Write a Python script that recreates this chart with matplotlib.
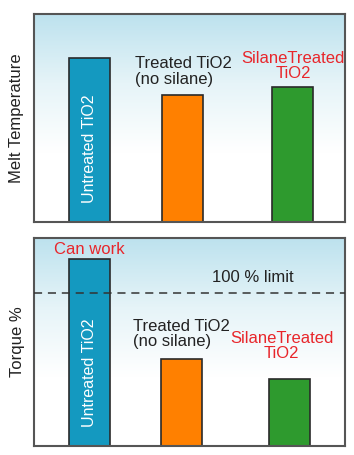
import matplotlib.pyplot as plt
import numpy as np
from matplotlib.colors import LinearSegmentedColormap

plt.rcParams['font.family'] = ['Liberation Sans', 'DejaVu Sans']

# data (arbitrary units, axis 0-100)
positions_top = [0.178, 0.477, 0.831]
positions_bot = [0.178, 0.474, 0.822]
melt_temp = [79, 61, 65]
torque = [90, 42, 32]
limit = 73.6
bar_colors = ['#1499c0', '#ff8000', '#2e9a2e']

fig = plt.figure(figsize=(3.54, 4.55), dpi=100)
W, H = 354, 455
ax1 = fig.add_axes([34 / W, 1 - 222 / H, 311 / W, 208 / H])
ax2 = fig.add_axes([34 / W, 1 - 446 / H, 311 / W, 208 / H])

cmap = LinearSegmentedColormap.from_list('bg', ['#ffffff', '#ffffff', '#e6f4f8', '#bde2ee'])
grad = np.linspace(0, 1, 256).reshape(-1, 1)

for ax, pos, vals in ((ax1, positions_top, melt_temp), (ax2, positions_bot, torque)):
    ax.imshow(grad, extent=[0, 1, 0, 100], origin='lower', aspect='auto',
              cmap=cmap, zorder=0)
    ax.bar(pos, vals, width=0.132, color=bar_colors, edgecolor='#2a2a2a',
           linewidth=1.2, zorder=2)
    ax.set_xlim(0, 1)
    ax.set_ylim(0, 100)
    ax.set_xticks([])
    ax.set_yticks([])
    for s in ax.spines.values():
        s.set_color('#555555')
        s.set_linewidth(1.5)

fs = 12
red = '#e8262b'
txt = '#222222'
ax1.set_ylabel('Melt Temperature', fontsize=fs, color=txt)
ax1.yaxis.set_label_coords(-10 / 311, 0.5)
ax2.set_ylabel('Torque %', fontsize=fs, color=txt)
ax2.yaxis.set_label_coords(-9 / 311, 0.5)

ax1.text(positions_top[0], 35, 'Untreated TiO2', rotation=90, color='white',
         ha='center', va='center', fontsize=11.5, zorder=3)
ax1.text(0.325, 72.4, 'Treated TiO2\n(no silane)', ha='left', va='center',
         fontsize=fs, color=txt, linespacing=1.05, zorder=3)
ax1.text(0.833, 75, 'SilaneTreated\nTiO2', ha='center', va='center',
         color=red, fontsize=fs, linespacing=1.05, zorder=3)

ax2.axhline(limit, color='#333333', linestyle=(0, (5.3, 3.8)), linewidth=1.1, zorder=3)
ax2.text(positions_bot[0], 35, 'Untreated TiO2', rotation=90, color='white',
         ha='center', va='center', fontsize=11.5, zorder=3)
ax2.text(positions_bot[0], 94.7, 'Can work', ha='center', va='center',
         color=red, fontsize=fs, zorder=3)
ax2.text(0.704, 80.8, '100 % limit', ha='center', va='center',
         fontsize=fs, color=txt, zorder=3)
ax2.text(0.318, 53.8, 'Treated TiO2\n(no silane)', ha='left', va='center',
         fontsize=fs, color=txt, linespacing=1.05, zorder=3)
ax2.text(0.796, 48, 'SilaneTreated\nTiO2', ha='center', va='center',
         color=red, fontsize=fs, linespacing=1.05, zorder=3)

fig.savefig('out.png', dpi=100)
